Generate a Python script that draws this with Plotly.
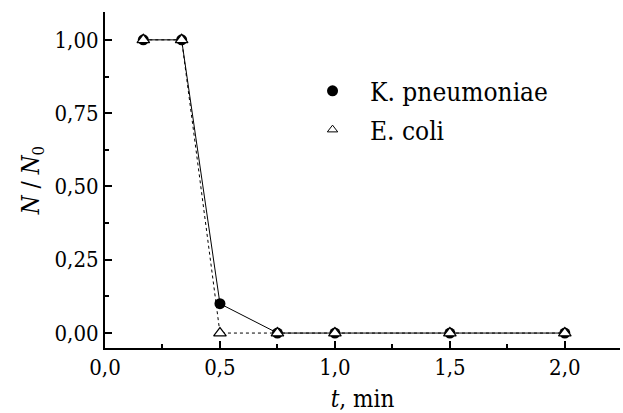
import plotly.graph_objects as go

t_min = [1/6, 1/3, 0.5, 0.75, 1.0, 1.5, 2.0]
kp = [1.00, 1.00, 0.10, 0.00, 0.00, 0.00, 0.00]
ec = [1.00, 1.00, 0.00, 0.00, 0.00, 0.00, 0.00]

xticks = [0, 0.5, 1.0, 1.5, 2.0]
xticklabels = ["0,0", "0,5", "1,0", "1,5", "2,0"]
yticks = [0, 0.25, 0.5, 0.75, 1.0]
yticklabels = ["0,00", "0,25", "0,50", "0,75", "1,00"]

fc = "DejaVu Serif Condensed, DejaVu Serif"

fig = go.Figure()
fig.add_trace(go.Scatter(x=t_min, y=kp, mode="lines+markers", name="K. pneumoniae",
                         line=dict(color="black", width=1),
                         marker=dict(symbol="circle", size=11, color="black"),
                         showlegend=False))
fig.add_trace(go.Scatter(x=t_min, y=ec, mode="lines+markers", name="E. coli",
                         line=dict(color="black", width=1, dash="dot"),
                         marker=dict(symbol="triangle-up", size=11, color="white",
                                     line=dict(color="black", width=1.2)),
                         showlegend=False))
fig.add_trace(go.Scatter(x=[None], y=[None], mode="markers", name="K. pneumoniae",
                         legendgroup="a",
                         marker=dict(symbol="circle", size=11, color="black")))
fig.add_trace(go.Scatter(x=[None], y=[None], mode="markers", name="E. coli",
                         legendgroup="b",
                         marker=dict(symbol="triangle-up", size=9, color="white",
                                     line=dict(color="black", width=1))))

fig.update_layout(
    width=623, height=413,
    margin=dict(l=105, r=3, t=12, b=65),
    paper_bgcolor="white", plot_bgcolor="white",
    font=dict(family=fc, size=22, color="black"),
    legend=dict(x=0.369, y=0.835, xanchor="left", yanchor="top",
                bgcolor="rgba(0,0,0,0)", font=dict(family=fc, size=26),
                itemsizing="trace", tracegroupgap=2, itemwidth=65),
)
fig.update_xaxes(
    range=[0, 2.24], showline=True, linecolor="black", linewidth=2,
    showgrid=False, zeroline=False, mirror=False,
    tickvals=xticks, ticktext=xticklabels, tickfont=dict(family=fc, size=22),
    ticklabelstandoff=-1,
    ticks="inside", ticklen=7, tickwidth=2, tickcolor="black",
    minor=dict(tickvals=[0.25, 0.75, 1.25, 1.75], ticks="inside", ticklen=4, tickwidth=2, tickcolor="black"),
    title=dict(text="<i>t</i>, min", font=dict(family=fc, size=24), standoff=11),
)
fig.update_yaxes(
    range=[-0.051, 1.095], showline=True, linecolor="black", linewidth=2,
    showgrid=False, zeroline=False, mirror=False,
    tickvals=yticks, ticktext=yticklabels, tickfont=dict(family=fc, size=22),
    ticks="inside", ticklen=7, tickwidth=2, tickcolor="black",
    minor=dict(tickvals=[0.125, 0.375, 0.625, 0.875], ticks="inside", ticklen=4, tickwidth=2, tickcolor="black"),
    title=dict(text="<i>N</i> / <i>N</i><sub>0</sub>", font=dict(family=fc, size=24), standoff=8),
)

fig.write_html("out.html")
